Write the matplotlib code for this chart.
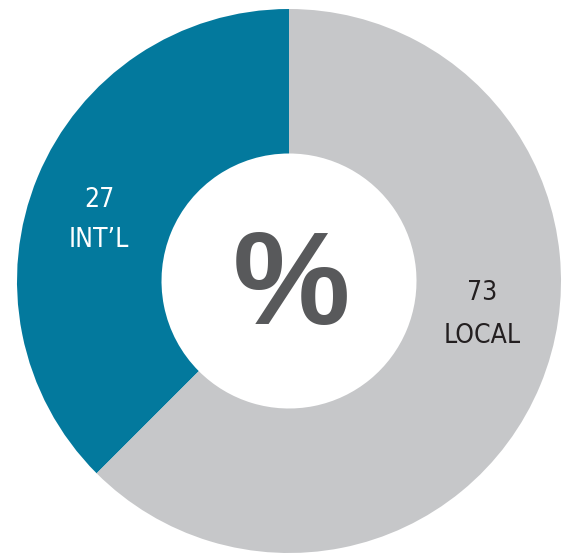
import matplotlib
matplotlib.use("Agg")
import matplotlib.pyplot as plt

# Data
labels = ["INT\u2019L", "LOCAL"]
values = [27, 73]
# wedge shares as drawn in the source graphic (blue slice spans ~135 deg)
shares = [37.5, 62.5]
colors = ["#03799D", "#C6C7C9"]
text_colors = ["white", "#231F20"]

W, H = 570, 553

fig = plt.figure(figsize=(W / 100, H / 100), dpi=100)
ax = fig.add_axes([0, 0, 1, 1])

# donut
ax.pie(shares, colors=colors, startangle=90, counterclock=True,
       radius=272, center=(289, H - 281),
       wedgeprops=dict(width=144.5, linewidth=0))

ax.set_xlim(0, W)
ax.set_ylim(0, H)
ax.set_aspect("equal")
ax.axis("off")

narrow = ["Liberation Sans Narrow", "DejaVu Sans"]

# slice labels (value on top, name below)
pos = [(99, 207, 247), (482, 300, 343)]
for (x, y1, y2), v, lab, tc in zip(pos, values, labels, text_colors):
    ax.text(x, H - y1, str(v), ha="center", va="baseline",
            fontsize=19, family=narrow, fontstretch="condensed", color=tc)
    ax.text(x, H - y2, lab, ha="center", va="baseline",
            fontsize=19, family=narrow, fontstretch="condensed", color=tc)

# big percent sign in the hole
ax.text(291, H - 324, "%", ha="center", va="baseline",
        fontsize=95, fontweight="bold",
        family=["Liberation Sans", "DejaVu Sans"], color="#58595B")

fig.savefig("out.png", dpi=100)
